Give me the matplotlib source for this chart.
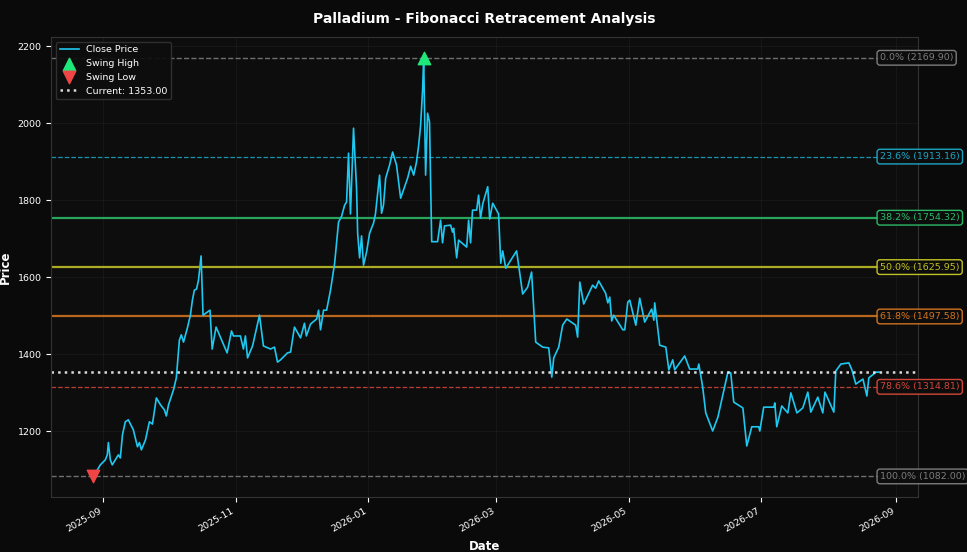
import numpy as np
import pandas as pd
import matplotlib
matplotlib.use('Agg')
import matplotlib.pyplot as plt
import matplotlib.dates as mdates

# day offsets from 2025-09-01 and close prices
days = [-4.6, -1.4, 0.9, 1.8, 2.3, 3.2, 4.1, 5.5, 6.9, 7.8, 8.8, 10.1, 11.5, 13.8, 15.7, 16.6,
        17.5, 19.4, 21.2, 22.6, 24.4, 26.3, 28.1, 29.0, 30.0, 32.3, 33.6, 35.0, 35.9, 36.9, 38.7,
        40.1, 41.0, 41.9, 42.9, 43.8, 45.0, 45.9, 49.1, 50.1, 51.9, 57.0, 59.0, 59.9, 63.1, 64.5,
        65.4, 66.4, 68.7, 71.9, 73.7, 77.0, 78.8, 80.2, 81.6, 84.8, 86.2, 88.0, 90.8, 92.6, 93.5,
        95.4, 98.2, 99.1, 100.0, 101.4, 102.8, 104.6, 106.5, 108.3, 109.7, 111.1, 112.0, 112.9,
        113.8, 115.2, 116.6, 117.1, 118.0, 118.9, 119.8, 121.2, 122.6, 124.4, 125.3, 127.2, 128.1,
        129.0, 130.0, 131.8, 133.2, 135.0, 136.9, 140.1, 141.5, 142.9, 144.2, 145.2, 146.1, 147.0,
        147.5, 148.4, 149.3, 150.2, 151.2, 153.9, 155.3, 156.2, 157.1, 159.9, 160.8, 161.3, 162.7,
        163.6, 167.3, 168.2, 169.1, 170.0, 171.9, 172.8, 173.7, 174.7, 177.0, 177.9, 179.3, 182.0,
        183.0, 183.9, 185.3, 190.3, 193.1, 195.4, 197.2, 199.1, 202.3, 205.1, 206.5, 207.4, 209.7,
        211.5, 213.4, 217.5, 218.4, 219.4, 221.2, 225.3, 226.7, 228.1, 231.3, 232.3, 233.2, 234.1,
        235.0, 239.2, 240.1, 241.5, 242.4, 245.2, 247.0, 249.3, 252.5, 253.5, 253.9, 256.2, 259.0,
        260.4, 262.2, 263.1, 267.7, 270.0, 273.7, 274.2, 276.0, 277.4, 280.6, 283.0, 287.6, 288.9,
        290.3, 294.5, 296.3, 298.6, 301.8, 302.3, 304.1, 308.8, 309.2, 310.1, 312.4, 315.2, 316.6,
        319.4, 322.1, 324.4, 325.8, 329.0, 331.3, 332.3, 336.4, 337.3, 339.6, 343.3, 344.7, 346.5,
        349.8, 351.6, 352.5, 355.8, 357.1]
close = [1082, 1112, 1125, 1138, 1170, 1125, 1112, 1125, 1138, 1130, 1190, 1224, 1229, 1203, 1159, 1170,
         1151, 1177, 1224, 1218, 1286, 1268, 1255, 1239, 1268, 1307, 1338, 1436, 1450, 1431, 1468,
         1502, 1540, 1566, 1569, 1592, 1655, 1501, 1514, 1413, 1470, 1403, 1460, 1447, 1447, 1413,
         1447, 1390, 1421, 1501, 1421, 1413, 1418, 1379, 1385, 1403, 1405, 1470, 1442, 1480, 1447,
         1478, 1491, 1514, 1463, 1514, 1514, 1566, 1636, 1743, 1758, 1787, 1795, 1922,
         1764, 1987, 1831, 1714, 1650, 1707, 1631, 1665, 1714, 1740, 1764, 1865, 1766,
         1787, 1857, 1891, 1925, 1891, 1805, 1857, 1888, 1865, 1899, 1943, 1995, 2086,
         2169.9, 1865, 2026, 2003, 1692, 1692, 1748, 1689, 1733, 1735, 1717, 1727, 1650,
         1696, 1678, 1748, 1689, 1774, 1774, 1813, 1753, 1790, 1835, 1751, 1792, 1764,
         1636, 1668, 1623, 1668, 1556, 1574, 1613, 1431, 1418, 1416, 1340, 1390, 1418,
         1475, 1491, 1475, 1444, 1587, 1530, 1579, 1571, 1590, 1558, 1533, 1548, 1486,
         1501, 1463, 1463, 1535, 1540, 1475, 1545, 1483, 1517, 1488, 1533, 1423, 1418,
         1359, 1385, 1359, 1395, 1361, 1361, 1374, 1314, 1247, 1200, 1236, 1353, 1351,
         1275, 1260, 1161, 1211, 1211, 1200, 1262, 1262, 1273, 1211, 1265, 1247, 1299,
         1247, 1260, 1301, 1249, 1288, 1247, 1301, 1249, 1356, 1374, 1377, 1359, 1322,
         1335, 1291, 1338, 1353, 1353]

fib_ratios = [0.0, 0.236, 0.382, 0.5, 0.618, 0.786, 1.0]
fib_colors = ['#888888', '#1fb5d6', '#2ecc71', '#d4d42a', '#e67e22', '#e74c3c', '#888888']
fib_styles = ['--', '--', '-', '-', '-', '--', '--']
fib_widths = [1.0, 0.9, 1.6, 1.6, 1.6, 0.9, 1.0]

dates = pd.Timestamp('2025-09-01') + pd.to_timedelta(days, unit='D')
close = np.array(close, dtype=float)
i_hi = int(np.argmax(close))
i_lo = int(np.argmin(close))
hi, lo = close[i_hi], close[i_lo]
current = close[-1]

bg = '#0a0a0a'
fig, ax = plt.subplots(figsize=(9.67, 5.52), dpi=100)
fig.patch.set_facecolor(bg)
ax.set_facecolor('#0d0d0d')

for r, c, ls, lw in zip(fib_ratios, fib_colors, fib_styles, fib_widths):
    lvl = hi - (hi - lo) * r
    ax.axhline(lvl, color=c, ls=ls, lw=lw, alpha=0.8)
    ax.text(dates[-1] + pd.Timedelta(days=0.5), lvl, f'{r*100:.1f}% ({lvl:.2f})', color=c,
            fontsize=6.8, va='center', ha='left', alpha=0.9,
            bbox=dict(boxstyle='round,pad=0.3', fc='#0d0d0d', ec=c, lw=1, alpha=0.9))

ax.plot(dates, close, color='#1ec8f0', lw=1.2, label='Close Price')
ax.scatter([dates[i_hi]], [hi], marker='^', s=80, color='#1ee87a', zorder=5, label='Swing High')
ax.scatter([dates[i_lo]], [lo], marker='v', s=80, color='#f04545', zorder=5, label='Swing Low')
ax.axhline(current, color='white', ls=':', lw=1.8, alpha=0.85, label=f'Current: {current:.2f}')

ax.set_xlim(pd.Timestamp('2025-08-08'), pd.Timestamp('2026-09-11'))
ax.set_ylim(1029, 2224)
ax.xaxis.set_major_locator(mdates.MonthLocator(bymonth=[1, 3, 5, 7, 9, 11]))
ax.xaxis.set_major_formatter(mdates.DateFormatter('%Y-%m'))
plt.setp(ax.get_xticklabels(), rotation=30, ha='right')

ax.grid(True, color='#333333', alpha=0.35, lw=0.5)
ax.tick_params(colors='white', labelsize=6.8)
for s in ax.spines.values():
    s.set_color('#333333')
ax.set_title('Palladium - Fibonacci Retracement Analysis', color='white', fontsize=10,
             fontweight='bold', pad=10)
ax.set_xlabel('Date', color='white', fontsize=8.5, fontweight='bold')
ax.set_ylabel('Price', color='white', fontsize=8.5, fontweight='bold')

leg = ax.legend(loc='upper left', fontsize=6.8, facecolor='#0d0d0d', edgecolor='#333333',
                labelcolor='white', framealpha=0.9)

fig.subplots_adjust(left=0.053, right=0.949, top=0.933, bottom=0.1)
fig.savefig('out.png', dpi=100, facecolor=bg)
